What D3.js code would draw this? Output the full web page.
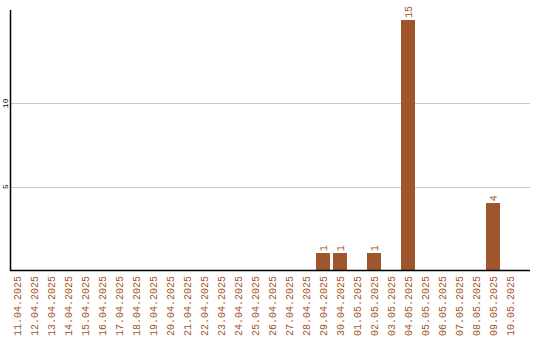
<!DOCTYPE html>
<html>
<head>
<meta charset="utf-8">
<script src="https://cdn.jsdelivr.net/npm/d3@7"></script>
<style>
  body { margin: 0; background: #fff; }
  text { font-family: "Liberation Mono", "DejaVu Sans Mono", monospace; }
</style>
</head>
<body>
<div id="chart"></div>
<script>
// Data
const dates = ["11.04.2025", "12.04.2025", "13.04.2025", "14.04.2025", "15.04.2025",
  "16.04.2025", "17.04.2025", "18.04.2025", "19.04.2025", "20.04.2025",
  "21.04.2025", "22.04.2025", "23.04.2025", "24.04.2025", "25.04.2025",
  "26.04.2025", "27.04.2025", "28.04.2025", "29.04.2025", "30.04.2025",
  "01.05.2025", "02.05.2025", "03.05.2025", "04.05.2025", "05.05.2025",
  "06.05.2025", "07.05.2025", "08.05.2025", "09.05.2025", "10.05.2025"];
const counts = [0, 0, 0, 0, 0, 0, 0, 0, 0, 0,
  0, 0, 0, 0, 0, 0, 0, 0, 1, 1,
  0, 1, 0, 15, 0, 0, 0, 0, 4, 0];
const yTicks = [5, 10];

const width = 540, height = 340;
const color = "#a0562c";

const svg = d3.select("#chart").append("svg")
  .attr("width", width)
  .attr("height", height);

// Scales
const x = d3.scaleBand()
  .domain(dates)
  .range([8.5, 518.5])
  .paddingInner(0.18)
  .paddingOuter(0.09);

const y = d3.scaleLinear()
  .domain([0, 15.6])
  .range([270, 10]);

// Gridlines
svg.append("g")
  .selectAll("line")
  .data(yTicks)
  .join("line")
  .attr("x1", 11)
  .attr("x2", 530)
  .attr("y1", d => Math.round(y(d)) + 0.5)
  .attr("y2", d => Math.round(y(d)) + 0.5)
  .attr("stroke", "#c8c8c8")
  .attr("stroke-width", 1);

// Y tick labels
svg.append("g")
  .selectAll("text")
  .data(yTicks)
  .join("text")
  .attr("transform", d => `translate(8,${y(d)}) rotate(-90)`)
  .attr("text-anchor", "middle")
  .attr("font-size", 8)
  .attr("fill", "#000")
  .text(d => d);

// Bars
svg.append("g")
  .selectAll("rect")
  .data(dates)
  .join("rect")
  .attr("x", (d) => Math.round(x(d)))
  .attr("y", (d, i) => Math.round(y(counts[i])))
  .attr("width", Math.round(x.bandwidth()))
  .attr("height", (d, i) => 270 - Math.round(y(counts[i])))
  .attr("fill", color);

// Value labels
svg.append("g")
  .selectAll("text")
  .data(dates.filter((d, i) => counts[i] > 0))
  .join("text")
  .attr("transform", d => {
    const v = counts[dates.indexOf(d)];
    return `translate(${x(d) + x.bandwidth() / 2 + 3.5},${y(v) - 2}) rotate(-90)`;
  })
  .attr("font-size", 10)
  .attr("fill", color)
  .text(d => counts[dates.indexOf(d)]);

// Axes lines
svg.append("line")
  .attr("x1", 10.5).attr("x2", 10.5)
  .attr("y1", 10).attr("y2", 271)
  .attr("stroke", "#000").attr("stroke-width", 1.5);

svg.append("line")
  .attr("x1", 10).attr("x2", 530)
  .attr("y1", 270.5).attr("y2", 270.5)
  .attr("stroke", "#000").attr("stroke-width", 1.5);

// X labels
svg.append("g")
  .selectAll("text")
  .data(dates)
  .join("text")
  .attr("transform", d => `translate(${x(d) + x.bandwidth() / 2 + 3.5},276) rotate(-90)`)
  .attr("text-anchor", "end")
  .attr("font-size", 10)
  .attr("fill", color)
  .text(d => d);
</script>
</body>
</html>
